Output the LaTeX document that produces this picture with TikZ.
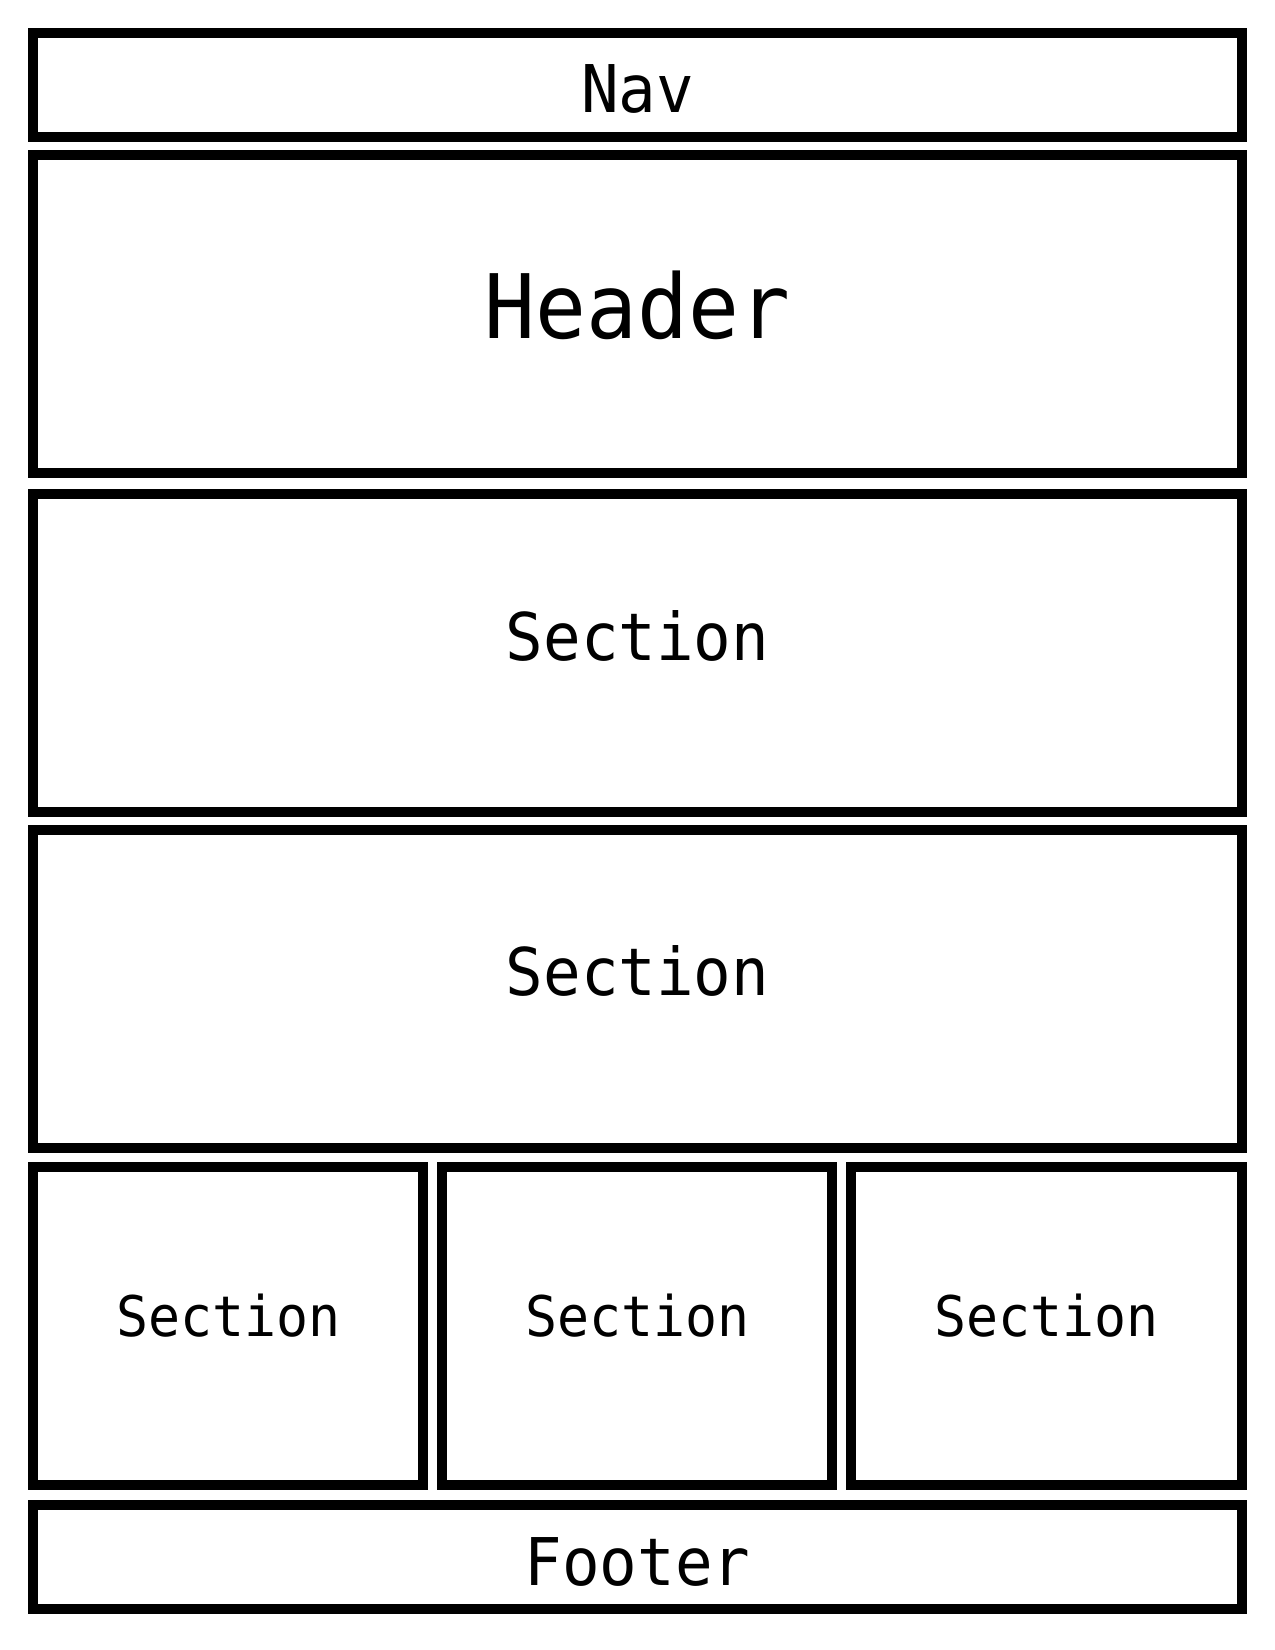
\documentclass[tikz,border=0pt]{standalone}
\usepackage{fontspec}
\usepackage{tikz}
\newfontfamily\wireFont[FakeStretch=0.95]{DejaVu Sans Mono}
\newcommand\labelBig{\wireFont\fontsize{65.8}{70}\selectfont}
\newcommand\labelHuge{\wireFont\fontsize{89}{94}\selectfont}
\newcommand\labelSmall{\wireFont\fontsize{56}{60}\selectfont}
\tikzset{wirebox/.style={draw=black,line width=10pt},
  wirelabel/.style={anchor=base,inner sep=0pt}}

\begin{document}
\begin{tikzpicture}[x=1pt,y=-1pt]
\useasboundingbox (0,0) rectangle (1275,1650);
\filldraw[color=white] (0,0) rectangle (1275,1650);
% Drawing full-width rows
\draw[wirebox] (33,33) rectangle (1242,136.7);
\draw[wirebox] (33,155) rectangle (1242,473.3);
\draw[wirebox] (33,494.3) rectangle (1242,812.3);
\draw[wirebox] (33,830) rectangle (1242,1148.3);
% Three columns
\draw[wirebox] (33,1166.7) rectangle (423.3,1485);
\draw[wirebox] (442.3,1166.7) rectangle (832.3,1485);
\draw[wirebox] (851,1166.7) rectangle (1242,1485);
% Footer row
\draw[wirebox] (33,1505) rectangle (1242,1609.3);
% Done with boxes; drawing labels
\node[wirelabel] (nav) at (637.5,112.7) {\labelBig Nav};
\node[wirelabel] (header) at (637.5,338.3) {\labelHuge Header};
\node[wirelabel] (sectionA) at (637.5,660) {\labelBig Section};
\node[wirelabel] (sectionB) at (637.5,995.7) {\labelBig Section};
\node[wirelabel] (colA) at (228.2,1336) {\labelSmall Section};
\node[wirelabel] (colB) at (637.3,1336) {\labelSmall Section};
\node[wirelabel] (colC) at (1046.5,1336) {\labelSmall Section};
\node[wirelabel] (footer) at (637.5,1585) {\labelBig Footer};
% Done with labels
\end{tikzpicture}
\end{document}
